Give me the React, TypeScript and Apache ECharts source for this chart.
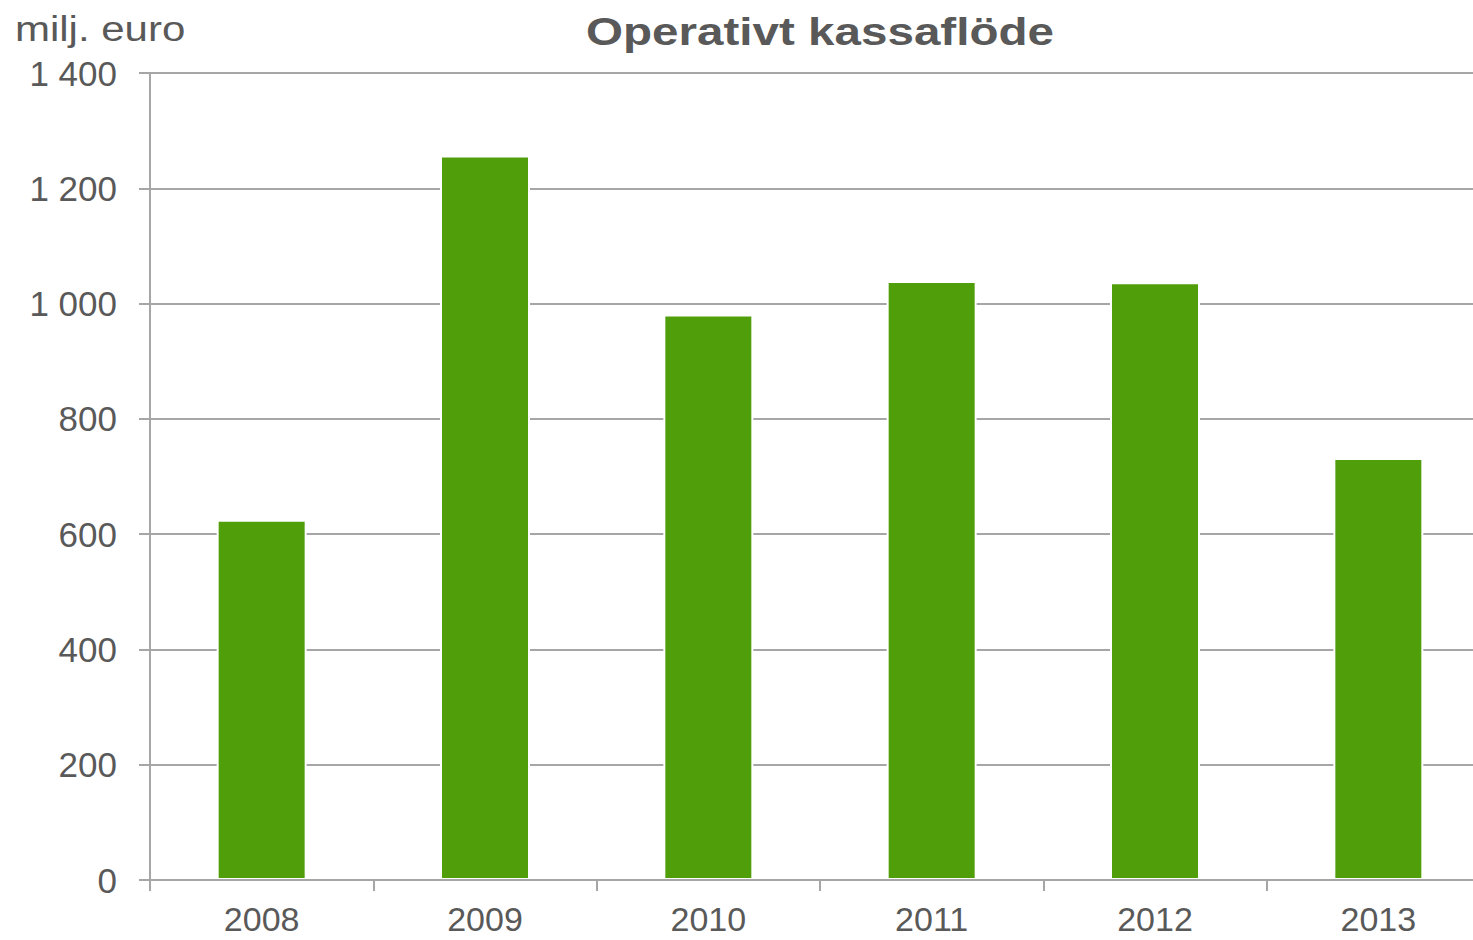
import React, { useEffect, useRef } from "react";
import * as echarts from "echarts";

const categories = ["2008", "2009", "2010", "2011", "2012", "2013"];
const cashFlow = [625, 1257, 981, 1039, 1037, 732];
const titleText = "Operativt kassaflöde";
const unitText = "milj. euro";

const FONT = "'Liberation Sans', Arial, sans-serif";
const TEXT = "#595959";
const LINE = "#A6A6A6";

function fmt(v: number): string {
  const s = String(Math.round(v));
  return s.replace(/\B(?=(\d{3})+(?!\d))/g, " ");
}

export default function App() {
  const ref = useRef<HTMLDivElement>(null);
  useEffect(() => {
    if (!ref.current) return;
    const chart = echarts.init(ref.current, undefined, { renderer: "svg" });
    chart.setOption({
      animation: false,
      backgroundColor: "#ffffff",
      grid: { left: 150, right: 0, top: 73, bottom: 60, containLabel: false },
      graphic: [
        {
          type: "text",
          x: 15,
          y: 29,
          scaleX: 1.2,
          style: {
            text: unitText,
            font: `35px ${FONT}`,
            fill: TEXT,
            textAlign: "left",
            textVerticalAlign: "middle",
          },
        },
        {
          type: "text",
          x: 820,
          y: 32,
          scaleX: 1.22,
          style: {
            text: titleText,
            font: `bold 39px ${FONT}`,
            fill: TEXT,
            textAlign: "center",
            textVerticalAlign: "middle",
          },
        },
      ],
      xAxis: {
        type: "category",
        data: categories,
        z: 5,
        axisLine: { lineStyle: { color: LINE, width: 2 } },
        axisTick: { show: true, length: 11, lineStyle: { color: LINE, width: 2 } },
        axisLabel: {
          color: TEXT,
          fontFamily: FONT,
          fontSize: 34,
          lineHeight: 34,
          margin: 22,
        },
      },
      yAxis: {
        type: "value",
        min: 0,
        max: 1400,
        interval: 200,
        axisLine: { show: true, lineStyle: { color: LINE, width: 2 } },
        axisTick: { show: true, length: 11, lineStyle: { color: LINE, width: 2 } },
        splitLine: { show: true, lineStyle: { color: LINE, width: 2 } },
        axisLabel: {
          color: TEXT,
          fontFamily: FONT,
          fontSize: 35,
          margin: 33,
          formatter: (v: number) => fmt(v),
        },
      },
      series: [
        {
          type: "bar",
          data: cashFlow,
          barWidth: 90,
          itemStyle: { color: "#519E0B", borderColor: "#ffffff", borderWidth: 2 },
        },
      ],
    });
    return () => chart.dispose();
  }, []);
  return (
    <div
      style={{
        position: "fixed",
        left: 0,
        top: 0,
        width: 1473,
        height: 940,
        overflow: "hidden",
        background: "#ffffff",
      }}
    >
      <div ref={ref} style={{ width: 1490, height: 940 }} />
    </div>
  );
}
